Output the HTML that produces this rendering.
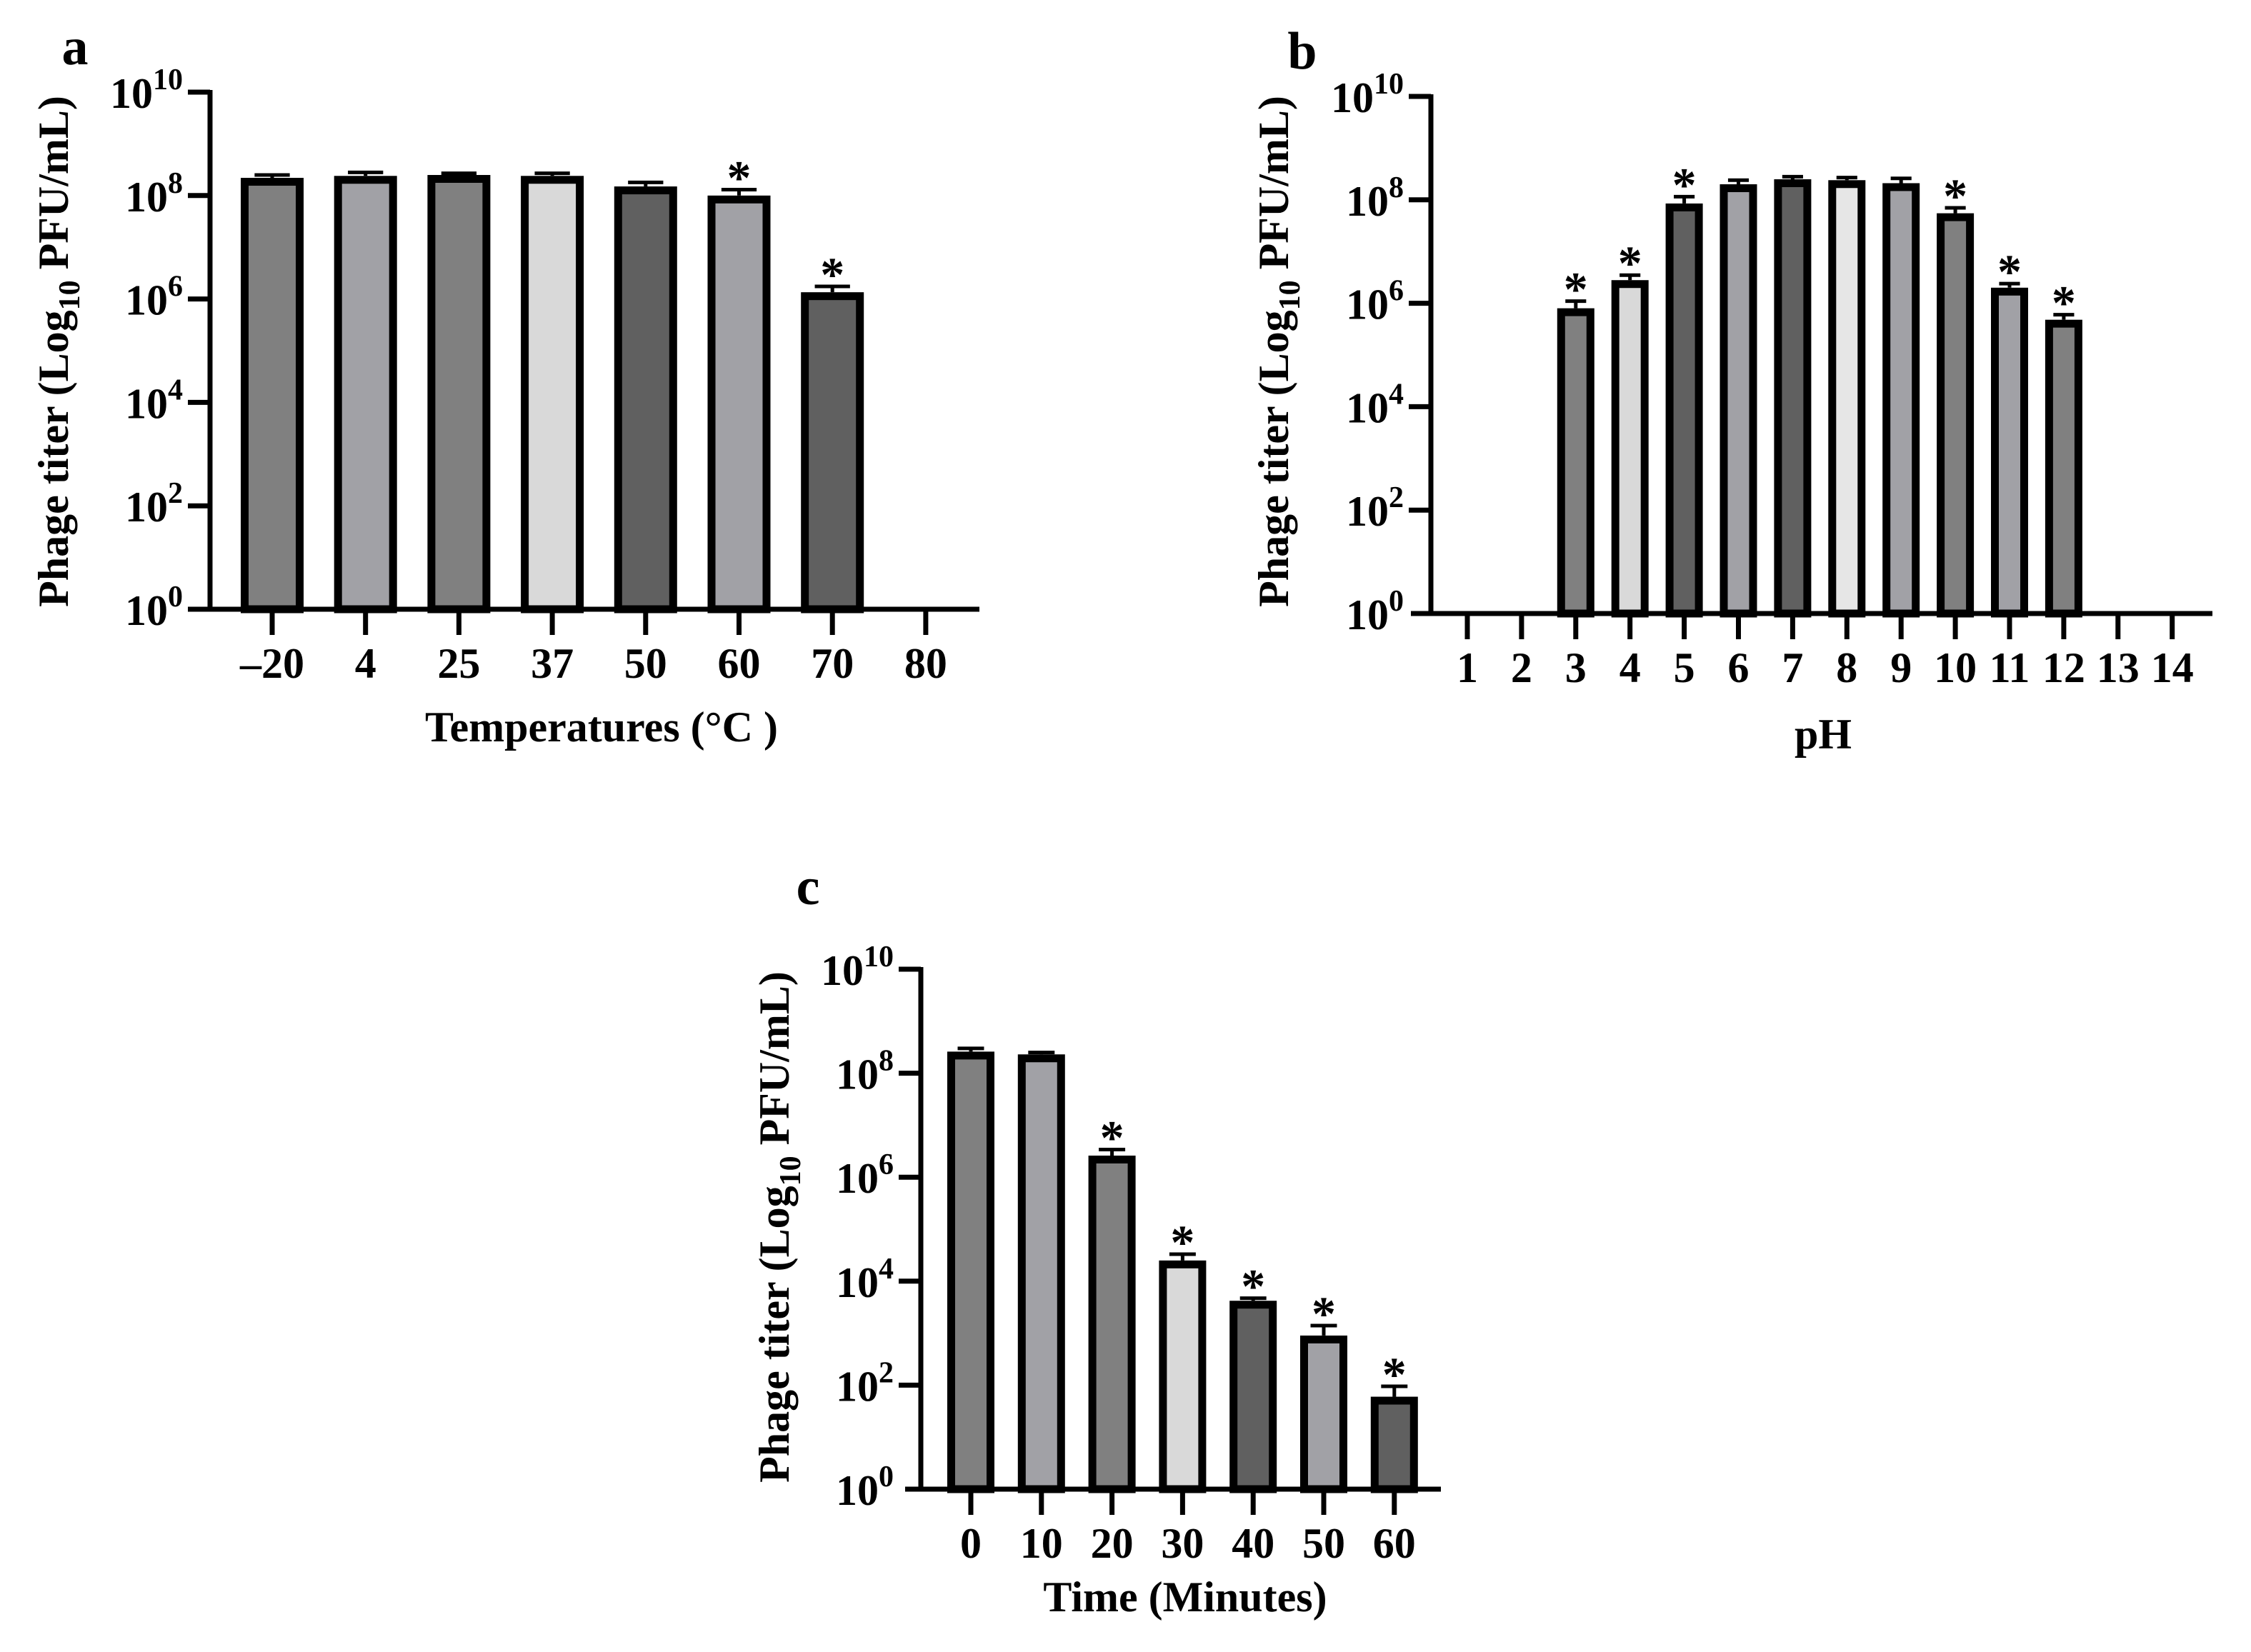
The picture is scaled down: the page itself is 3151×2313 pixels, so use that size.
<!DOCTYPE html>
<html><head><meta charset="utf-8"><style>
html,body{margin:0;padding:0;background:#fff;}
svg{display:block;}
text{font-family:"Liberation Serif",serif;font-weight:bold;fill:#000;}
</style></head><body>
<svg id="fig" width="3151" height="2313" viewBox="0 0 3151 2313" xmlns="http://www.w3.org/2000/svg"></svg>
<script>
// Panel a data
const catsA = ["\u201320","4","25","37","50","60","70","80"];
const valsA = [2.2e8, 2.4e8, 2.5e8, 2.4e8, 1.5e8, 1.0e8, 1.35e6, 0];
const errA  = [0.3e8, 0.4e8, 0.2e8, 0.3e8, 0.3e8, 0.3e8, 0.4e6, 0];
const sigA  = [0,0,0,0,0,1,1,0];
const colA  = ["#808080","#a1a1a6","#808080","#d9d9d9","#606060","#a1a1a6","#606060","#808080"];
// Panel b data
const catsB = ["1","2","3","4","5","6","7","8","9","10","11","12","13","14"];
const valsB = [0, 0, 8e5, 2.8e6, 8.5e7, 2.0e8, 2.5e8, 2.4e8, 2.1e8, 5.5e7, 2.0e6, 4.8e5, 0, 0];
const errB  = [0, 0, 3e5, 0.7e6, 3e7, 0.4e8, 0.3e8, 0.3e8, 0.5e8, 1.5e7, 0.4e6, 1.2e5, 0, 0];
const sigB  = [0,0,1,1,1,0,0,0,0,1,1,1,0,0];
const colB  = ["#808080","#808080","#808080","#d9d9d9","#606060","#a1a1a6","#606060","#e6e6e6","#a1a1a6","#808080","#a1a1a6","#808080","#808080","#808080"];
// Panel c data
const catsC = ["0","10","20","30","40","50","60"];
const valsC = [2.6e8, 2.3e8, 2.6e6, 2.5e4, 4.2e3, 900, 60];
const errC  = [0.4e8, 0.2e8, 0.8e6, 0.8e4, 0.5e3, 500, 35];
const sigC  = [0,0,1,1,1,1,1];
const colC  = ["#808080","#a1a1a6","#808080","#d9d9d9","#606060","#a1a1a6","#606060"];
const yTickExp = [0,2,4,6,8,10];

const NS="http://www.w3.org/2000/svg";
const svg=document.getElementById('fig');
function mk(tag,attrs,parent){const e=document.createElementNS(NS,tag);for(const k in attrs)e.setAttribute(k,attrs[k]);(parent||svg).appendChild(e);return e;}

function panel(p){
  const g=mk('g',{});
  
  
  const yScale=v=>{if(v<=1)return p.y0;return p.y0-(Math.log10(v)/10)*(p.y0-p.y10);};
  const xScale=i=>p.x0+i*p.dx;
  const L=mk('text',{x:p.lx,y:p.ly,'font-size':74,'text-anchor':'middle'},g);L.textContent=p.id;
  
  
  p.vals.forEach((v,i)=>{
    if(v<=1)return;
    const cx=xScale(i),top=yScale(v),sw=11;
    const r=mk('rect',{x:cx-p.bw/2+sw/2,y:top+sw/2,width:p.bw-sw,height:p.y0-top-sw/2,fill:p.cols[i],stroke:'#000','stroke-width':sw},g);
    
    
    const et=yScale(v+p.errs[i]);
    const el=mk('path',{d:`M${cx},${top} V${et} M${cx-p.bw*0.28},${et} H${cx+p.bw*0.28}`,stroke:'#000','stroke-width':5,fill:'none'},g);
    
    
    if(p.sig[i]){
      const s=mk('text',{x:cx,y:et+6,'font-size':68,'text-anchor':'middle'},g);s.textContent='*';
      
      
    }
  });
  const ya=mk('line',{x1:p.ax,y1:p.y10-3,x2:p.ax,y2:p.y0,stroke:'#000','stroke-width':7},g);
  
  
  const xa=mk('line',{x1:p.xa0,y1:p.y0,x2:p.xa1,y2:p.y0,stroke:'#000','stroke-width':7},g);
  
  
  yTickExp.forEach(e=>{
    const y=yScale(Math.pow(10,e));
    if(e>0)mk('line',{x1:p.ax-31,y1:y,x2:p.ax,y2:y,stroke:'#000','stroke-width':7},g);
    const t=mk('text',{x:p.ax-38,y:y+22,'font-size':60,'text-anchor':'end'},g);
    
    
    const a=mk('tspan',{},t);a.textContent='10';
    const b=mk('tspan',{dy:-26,'font-size':42},t);b.textContent=String(e);
  });
  p.cats.forEach((c,i)=>{
    const x=xScale(i);
    mk('line',{x1:x,y1:p.y0,x2:x,y2:p.y0+36,stroke:'#000','stroke-width':7},g);
    const t=mk('text',{x:x,y:p.y0+96,'font-size':60,'text-anchor':'middle'},g);t.textContent=c;
    
    
  });
  const xt=mk('text',{x:p.xtx,y:p.xty,'font-size':60,'text-anchor':'middle'},g);xt.textContent=p.xtitle;
  
  
  const yt=mk('text',{x:0,y:0,'font-size':60,'text-anchor':'middle',transform:`translate(${p.ytx},${p.yty}) rotate(-90)`},g);
  
  
  const t1=mk('tspan',{},yt);t1.textContent='Phage titer (Log';
  const t2=mk('tspan',{dy:16,'font-size':42},yt);t2.textContent='10';
  const t3=mk('tspan',{dy:-16},yt);t3.textContent=' PFU/mL)';
}

panel({id:'a',cats:catsA,vals:valsA,errs:errA,sig:sigA,cols:colA,
  ax:294,y0:853,y10:129,x0:381,dx:130.7,bw:88,xa0:263,xa1:1371,
  lx:105,ly:90,xtx:842,xty:1038,xtitle:'Temperatures (\u00B0C )',ytx:95,yty:492});
panel({id:'b',cats:catsB,vals:valsB,errs:errB,sig:sigB,cols:colB,
  ax:2003,y0:859,y10:135,x0:2054,dx:75.9,bw:52,xa0:1975,xa1:3097,
  lx:1823,ly:96,xtx:2552,xty:1048,xtitle:'pH',ytx:1803,yty:492});
panel({id:'c',cats:catsC,vals:valsC,errs:errC,sig:sigC,cols:colC,
  ax:1289,y0:2085,y10:1357,x0:1359,dx:98.8,bw:66,xa0:1267,xa1:2017,
  lx:1131,ly:1266,xtx:1659,xty:2256,xtitle:'Time (Minutes)',ytx:1104,yty:1718});
</script>
</body></html>
